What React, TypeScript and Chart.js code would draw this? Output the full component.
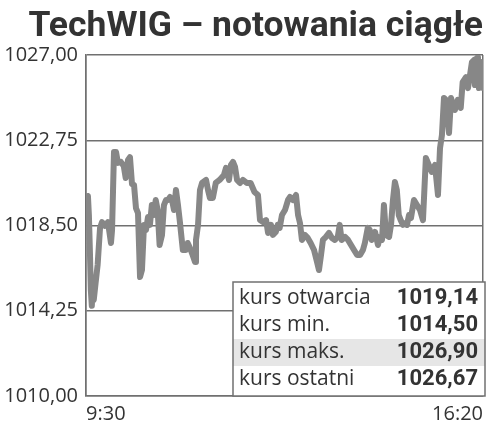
import React, { useEffect, useRef } from "react";
import { Chart, registerables } from "chart.js";

Chart.register(...registerables);

const titleText = "TechWIG – notowania ciągłe";

// minutes after 9:30
const minutes = [
  0, 1, 2, 3, 4, 5, 6, 7, 8, 10,
  12, 14.5, 16.5, 19.6, 22.7, 25.8, 26.9, 28.9, 31, 33,
  36, 39, 41, 43.4, 45.4, 47.5, 49.6, 51.6, 53.7, 55.8,
  57.8, 59.9, 62, 64, 66, 68, 70, 72, 74, 76,
  78.5, 80.5, 82.6, 84.7, 86.7, 88.8, 90.9, 92.9, 95, 97,
  100, 103, 105, 107.4, 110.5, 112.6, 113.6, 115.7, 117.7, 119.8,
  124, 126, 128, 131, 134, 138, 142.5, 144.6, 147.7, 149.7,
  151.8, 153.9, 156, 159, 162, 166, 170, 174, 177.6, 179.7,
  182.8, 186, 188, 191, 193, 196, 198, 200, 202.4, 205.5,
  208.6, 210.7, 213.8, 216.9, 219, 221, 223, 226, 229, 232,
  235.5, 238.6, 240.6, 242.7, 244.7, 247.8, 251, 254, 257, 260,
  262, 264, 267.5, 270.6, 273.7, 276.8, 280, 283, 286, 288,
  291, 293, 295, 298.5, 301.5, 303.6, 305.7, 307.7, 309.8, 313,
  315, 317, 319, 321, 323, 325, 327.4, 329.4, 331.5, 333.6,
  335.6, 338.7, 341.8, 345, 348, 351, 354, 357, 360.4, 363.5,
  365.6, 367.6, 369.7, 371.8, 374.9, 377, 379, 381, 384, 387,
  389, 392.4, 394.5, 396.6, 398.6, 400.7, 401.7, 403.8, 404.8, 405.8,
  408, 410,
];

const prices = [
  1019.14, 1019.77, 1019.97, 1019.0, 1017.28, 1015.28, 1014.5, 1015.53, 1014.79, 1015.68,
  1016.53, 1018.38, 1018.67, 1018.48, 1018.67, 1017.63, 1018.28, 1022.16, 1022.16, 1021.62,
  1021.67, 1021.47, 1020.87, 1021.77, 1021.91, 1020.57, 1020.52, 1019.37, 1019.12, 1015.93,
  1016.28, 1018.53, 1018.28, 1018.92, 1018.53, 1019.52, 1019.02, 1019.77, 1019.27, 1017.53,
  1018.03, 1019.52, 1019.77, 1019.77, 1019.92, 1019.77, 1019.27, 1020.27, 1019.52, 1018.67,
  1017.28, 1017.28, 1017.63, 1017.38, 1016.98, 1016.68, 1017.78, 1018.53, 1020.27, 1020.62,
  1020.77, 1020.27, 1019.87, 1019.87, 1020.62, 1020.77, 1021.02, 1021.37, 1020.77, 1021.52,
  1021.67, 1021.42, 1020.77, 1020.62, 1020.77, 1020.62, 1020.62, 1020.17, 1020.02, 1018.77,
  1018.67, 1018.77, 1018.13, 1018.53, 1018.03, 1018.18, 1018.53, 1018.38, 1019.02, 1019.27,
  1019.77, 1019.92, 1019.77, 1020.02, 1019.02, 1018.62, 1017.78, 1018.03, 1017.88, 1017.63,
  1017.28, 1016.68, 1016.28, 1017.03, 1017.78, 1017.93, 1018.13, 1017.88, 1017.78, 1017.93,
  1018.53, 1017.78, 1017.93, 1017.78, 1017.53, 1017.28, 1017.03, 1017.03, 1017.28, 1017.63,
  1018.38, 1018.28, 1017.78, 1018.18, 1017.53, 1017.93, 1017.78, 1019.52, 1018.03, 1017.93,
  1018.53, 1019.77, 1020.67, 1020.27, 1019.02, 1018.77, 1018.53, 1018.62, 1018.53, 1019.02,
  1018.87, 1019.77, 1019.52, 1019.27, 1018.77, 1021.87, 1021.52, 1021.17, 1021.52, 1020.02,
  1022.36, 1023.01, 1024.86, 1024.76, 1023.11, 1024.86, 1024.5, 1024.26, 1024.76, 1024.36,
  1025.65, 1025.9, 1025.35, 1026.0, 1026.65, 1026.75, 1025.5, 1026.85, 1026.9, 1025.35,
  1026.65, 1025.35,
];

const yTicks = [1010, 1014.25, 1018.5, 1022.75, 1027];
const xTicks = [0, 410];
const xTickLabels = ["9:30", "16:20"];

const statLabels = ["kurs otwarcia", "kurs min.", "kurs maks.", "kurs ostatni"];
const statValues = ["1019,14", "1014,50", "1026,90", "1026,67"];
const highlightRow = 2;

const fmt = (v: number) => v.toFixed(2).replace(".", ",");

const statsPlugin = {
  id: "statsBox",
  afterDraw(chart: any) {
    const { ctx, chartArea } = chart;
    const right = chartArea.right + 2;
    const left = chartArea.right - 250;
    const bottom = chartArea.bottom;
    const top = bottom - 114;
    const rowH = 27;
    const padTop = 3;
    ctx.save();
    ctx.fillStyle = "#ffffff";
    ctx.fillRect(left, top, right - left, bottom - top);
    ctx.fillStyle = "#e6e6e6";
    ctx.fillRect(left, top + padTop + highlightRow * rowH, right - left, rowH);
    ctx.strokeStyle = "#707070";
    ctx.lineWidth = 1.5;
    ctx.strokeRect(left, top, right - left, bottom - top);
    ctx.textBaseline = "middle";
    statLabels.forEach((label, i) => {
      const cy = top + padTop + i * rowH + rowH / 2;
      ctx.fillStyle = "#333333";
      ctx.font = '21px "Open Sans"';
      ctx.textAlign = "left";
      ctx.fillText(label, left + 6, cy);
      ctx.font = "bold 22px Roboto";
      ctx.textAlign = "right";
      ctx.fillText(statValues[i], right - 7, cy);
    });
    ctx.restore();
  },
};

export default function App() {
  const ref = useRef<HTMLCanvasElement | null>(null);

  useEffect(() => {
    if (!ref.current) return;
    const chart = new Chart(ref.current, {
      type: "line",
      data: {
        datasets: [
          {
            data: minutes.map((m, i) => ({ x: m, y: prices[i] })),
            borderColor: "#878787",
            borderWidth: 6,
            pointRadius: 0,
            tension: 0,
            fill: false,
            borderJoinStyle: "round",
            borderCapStyle: "round",
          },
        ],
      },
      options: {
        responsive: false,
        animation: false,
        layout: { padding: { left: 0, right: 17, top: 0, bottom: 0 } },
        plugins: {
          legend: { display: false },
          tooltip: { enabled: false },
          title: {
            display: true,
            text: titleText,
            align: "end",
            color: "#333333",
            font: { family: "Roboto", size: 35.5, weight: "bold" },
            padding: { top: 6, bottom: 6.4 },
          },
        },
        scales: {
          x: {
            type: "linear",
            min: 0,
            max: 410,
            afterBuildTicks: (s: any) => {
              s.ticks = xTicks.map((v) => ({ value: v }));
            },
            afterFit: (s: any) => {
              s.height = 48;
            },
            grid: { color: "#707070", lineWidth: 1.5, drawTicks: false },
            border: { color: "#707070", width: 1.5 },
            ticks: {
              align: "inner",
              padding: 6,
              color: "#333333",
              font: { family: "Open Sans", size: 20 },
              maxRotation: 0,
              callback: (v: any) => {
                const idx = xTicks.indexOf(Number(v));
                return idx >= 0 ? xTickLabels[idx] : "";
              },
            },
          },
          y: {
            min: 1010,
            max: 1027,
            afterBuildTicks: (s: any) => {
              s.ticks = yTicks.map((v) => ({ value: v }));
            },
            afterFit: (s: any) => {
              s.width = 86;
            },
            grid: { color: "#707070", lineWidth: 1.5, drawTicks: false },
            border: { color: "#707070", width: 1.5 },
            ticks: {
              padding: 8,
              color: "#333333",
              font: { family: "Open Sans", size: 20 },
              callback: (v: any) => fmt(Number(v)),
            },
          },
        },
      } as any,
      plugins: [statsPlugin],
    });
    return () => chart.destroy();
  }, []);

  return (
    <div style={{ position: "absolute", left: 0, top: 0, width: 500, height: 444, background: "#fff" }}>
      <canvas ref={ref} width={500} height={444} />
    </div>
  );
}
